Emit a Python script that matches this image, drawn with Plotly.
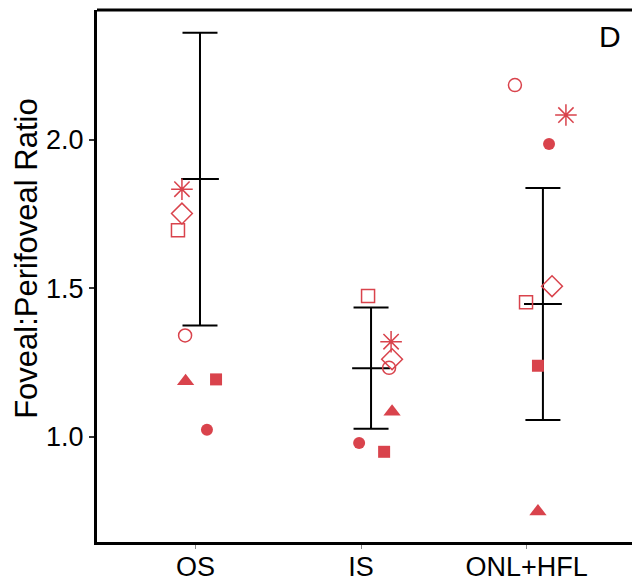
import plotly.graph_objects as go

# Layer categories along the x axis
categories = ["OS", "IS", "ONL+HFL"]

# Group mean and standard deviation for each layer
group_mean = [1.868, 1.231, 1.447]
group_sd = [0.493, 0.204, 0.391]
group_offset = [0.027, 0.060, 0.098]

# Individual foveal:perifoveal ratios, one list per subject (OS, IS, ONL+HFL)
subj_filled_circle = [1.023, 0.979, 1.986]
subj_filled_square = [1.193, 0.949, 1.239]
subj_filled_triangle = [1.187, 1.084, 0.748]
subj_open_circle = [1.341, 1.232, 2.185]
subj_open_square = [1.696, 1.474, 1.453]
subj_open_diamond = [1.752, 1.261, 1.507]
subj_asterisk = [1.834, 1.320, 2.084]

# Horizontal jitter of each subject's point within a category
jit_filled_circle = [0.069, -0.012, 0.135]
jit_filled_square = [0.124, 0.139, 0.068]
jit_filled_triangle = [-0.060, 0.187, 0.068]
jit_open_circle = [-0.063, 0.169, -0.071]
jit_open_square = [-0.106, 0.042, -0.004]
jit_open_diamond = [-0.082, 0.187, 0.153]
jit_asterisk = [-0.082, 0.181, 0.237]

RED = "#D9434C"
FONT = "Liberation Sans, Arial, Helvetica, sans-serif"

subjects = [
    (subj_filled_circle, jit_filled_circle, "circle", 12, False),
    (subj_filled_square, jit_filled_square, "square", 12, False),
    (subj_filled_triangle, jit_filled_triangle, "triangle-up", 15, False),
    (subj_open_circle, jit_open_circle, "circle-open", 13, True),
    (subj_open_square, jit_open_square, "square-open", 13, True),
    (subj_open_diamond, jit_open_diamond, "diamond-open", 16, True),
    (subj_asterisk, jit_asterisk, "asterisk-open", 18, True),
]

fig = go.Figure()

# Mean tick with +/- SD error bars
fig.add_trace(go.Scatter(
    x=[i + o for i, o in enumerate(group_offset)],
    y=group_mean,
    mode="markers",
    marker=dict(symbol="line-ew", size=27, color="black",
                line=dict(color="black", width=2)),
    error_y=dict(type="data", array=group_sd, visible=True,
                 color="black", thickness=2, width=17.5),
    showlegend=False, hoverinfo="skip",
))

for vals, jit, sym, size, is_open in subjects:
    marker = dict(symbol=sym, size=size, color=RED)
    if is_open:
        marker["line"] = dict(color=RED, width=1.5)
    else:
        marker["line"] = dict(width=0)
    fig.add_trace(go.Scatter(
        x=[i + j for i, j in enumerate(jit)],
        y=vals,
        mode="markers",
        marker=marker,
        showlegend=False,
    ))

# Top frame line (the frame stays open on the right)
fig.add_shape(type="line", xref="paper", yref="paper",
              x0=0, x1=1, y0=1, y1=1,
              line=dict(color="black", width=3))

# Panel letter
fig.add_annotation(text="D", xref="paper", yref="paper",
                   x=0.983, y=0.985, xanchor="right", yanchor="top",
                   showarrow=False, font=dict(size=30, color="black", family=FONT))

# Y axis title
fig.add_annotation(text="Foveal:Perifoveal Ratio", xref="paper", yref="paper",
                   x=-0.131, y=0.534, xanchor="center", yanchor="middle",
                   textangle=-90, showarrow=False,
                   font=dict(size=31, color="black", family=FONT))

fig.update_layout(
    width=632, height=585,
    margin=dict(l=97, r=0, t=10, b=43, autoexpand=False),
    plot_bgcolor="white", paper_bgcolor="white",
    font=dict(family=FONT, color="black"),
    xaxis=dict(
        range=[-0.595, 2.636], automargin=False,
        tickmode="array", tickvals=[0, 1, 2], ticktext=categories,
        showgrid=False, zeroline=False,
        showline=True, linecolor="black", linewidth=3,
        ticks="outside", ticklen=4, tickwidth=1, tickcolor="#888",
        ticklabelstandoff=-5,
        tickfont=dict(size=27, family=FONT, color="black"),
    ),
    yaxis=dict(
        range=[0.645, 2.438], automargin=False,
        tickvals=[1.0, 1.5, 2.0], ticktext=["1.0", "1.5", "2.0"],
        showgrid=False, zeroline=False,
        showline=True, linecolor="black", linewidth=3,
        ticks="outside", ticklen=5, tickwidth=1.5, tickcolor="#333",
        tickfont=dict(size=27, family=FONT, color="black"),
    ),
)

fig.write_html("out.html")
